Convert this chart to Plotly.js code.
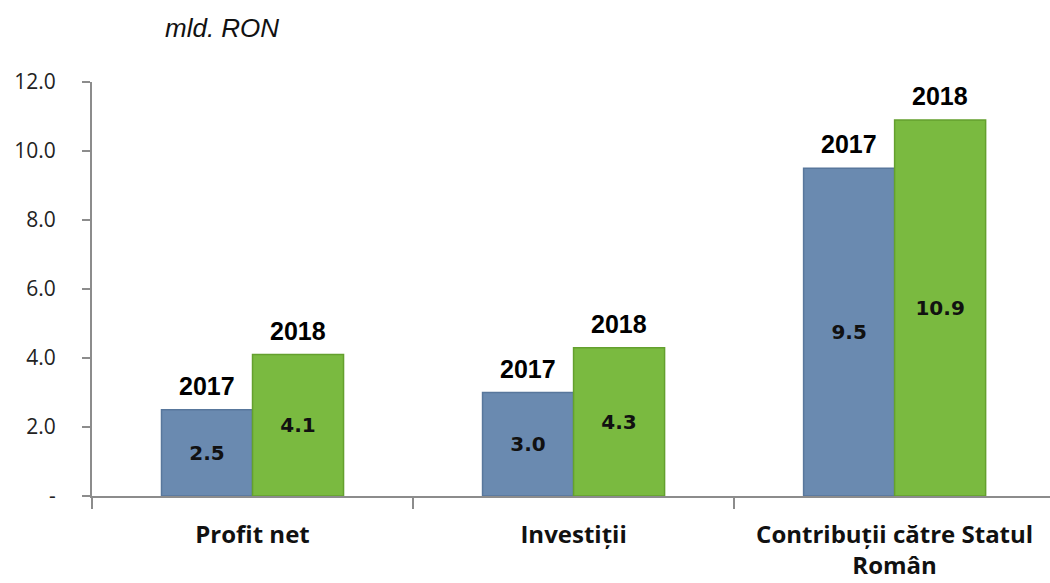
<!DOCTYPE html>
<html>
<head>
<meta charset="utf-8">
<script src="https://cdn.plot.ly/plotly-3.0.1.min.js"></script>
<style>html,body{margin:0;padding:0;background:#fff;}#chart{width:1050px;height:583px;}</style>
</head>
<body>
<div id="chart"></div>
<script>
const categories = ["Profit net", "Investiții", "Contribuții către Statul<br>Român"];
const seriesNames = ["2017", "2018"];
const values2017 = [2.5, 3.0, 9.5];
const values2018 = [4.1, 4.3, 10.9];
const yTickVals = [0, 2, 4, 6, 8, 10, 12];
const yTickText = ["-", "2.0", "4.0", "6.0", "8.0", "10.0", "12.0"];
const unitLabel = "mld. RON";

const barFont = {family: "DejaVu Sans", size: 20, color: "#111"};
function barTrace(name, vals, color, lineColor) {
  return {
    type: "bar", name: name, x: categories, y: vals,
    marker: {color: color, line: {color: lineColor, width: 1.5}},
    texttemplate: "<b>%{y:.1f}</b>", textposition: "inside",
    insidetextanchor: "middle", textfont: barFont,
    hoverinfo: "skip", cliponaxis: false
  };
}
const traces = [
  barTrace(seriesNames[0], values2017, "#6a8ab0", "#58779c"),
  barTrace(seriesNames[1], values2018, "#7aba40", "#64a02e")
];

const W = 1050, H = 583, ml = 92, mt = 82, mb = 87, mr = 0;
const pw = W - ml - mr, ph = H - mt - mb;

const annotations = [];
[values2017, values2018].forEach((vals, s) => {
  vals.forEach((v, i) => {
    annotations.push({
      x: categories[i], y: v, xref: "x", yref: "y",
      text: "<b>" + seriesNames[s] + "</b>", showarrow: false,
      xshift: s === 0 ? -45.5 : 45.5, yanchor: "bottom", yshift: 8,
      font: {family: "Liberation Sans", size: 25, color: "#000"}
    });
  });
});
annotations.push({
  x: (163 - ml) / pw, y: (H - mb - 28) / ph, xref: "paper", yref: "paper",
  text: "<i>" + unitLabel + "</i>",
  showarrow: false, xanchor: "left", yanchor: "middle",
  font: {family: "Liberation Sans", size: 26, color: "#111"}
});

const layout = {
  width: W, height: H,
  margin: {l: ml, r: mr, t: mt, b: mb, pad: 0},
  paper_bgcolor: "#fff", plot_bgcolor: "#fff",
  showlegend: false,
  barmode: "group", bargap: 0.433, bargroupgap: 0,
  xaxis: {
    type: "category", range: [-0.5, 2.484],
    showline: true, linecolor: "#8c8c8c", linewidth: 2,
    ticks: "outside", tickson: "boundaries", ticklen: 11, tickwidth: 2, tickcolor: "#8c8c8c",
    tickfont: {family: "Open Sans", size: 24, color: "#111", weight: "bold"},
    ticklabelstandoff: 16,
    showgrid: false, zeroline: false, fixedrange: true
  },
  yaxis: {
    range: [0, 12], tickmode: "array", tickvals: yTickVals, ticktext: yTickText,
    showline: true, linecolor: "#8c8c8c", linewidth: 2,
    ticks: "outside", ticklen: 8, tickwidth: 2, tickcolor: "#8c8c8c",
    tickfont: {family: "Open Sans", size: 21, color: "#222"},
    ticklabelstandoff: 22,
    showgrid: false, zeroline: false, fixedrange: true
  },
  annotations: annotations
};
Plotly.newPlot("chart", traces, layout, {displayModeBar: false, staticPlot: true});
</script>
</body>
</html>
